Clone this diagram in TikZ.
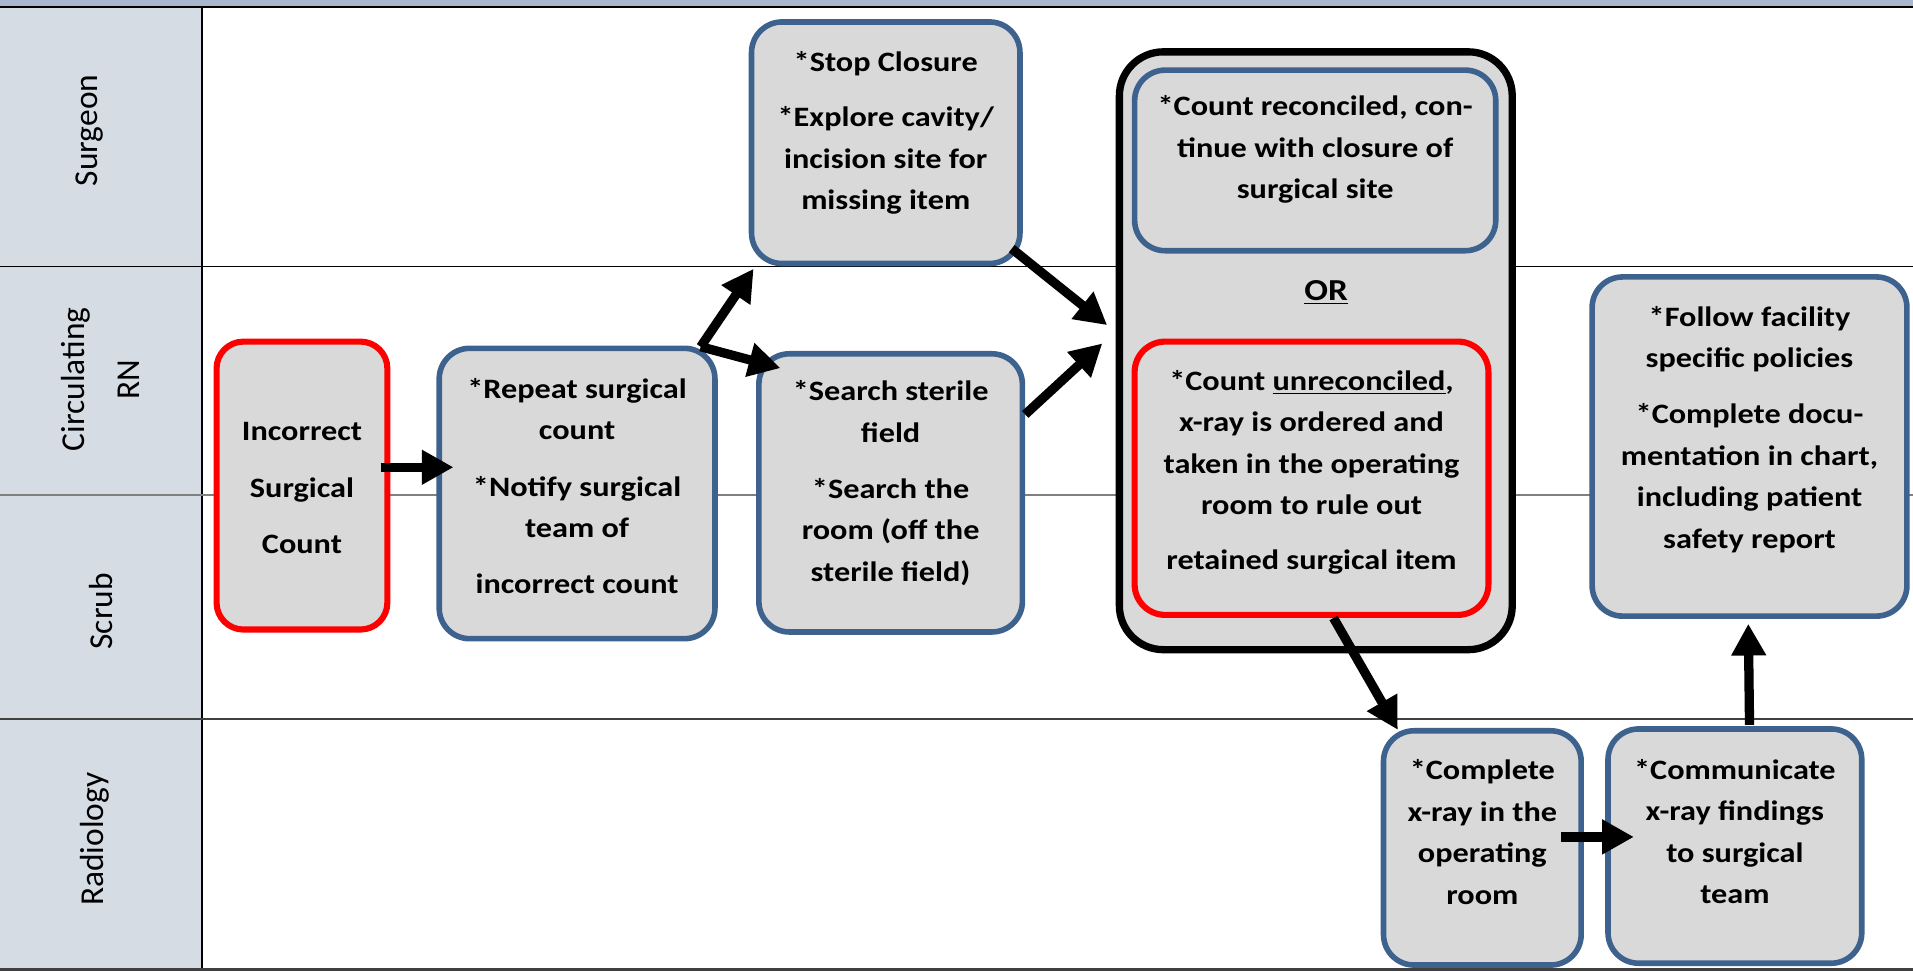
\documentclass[tikz,border=0pt]{standalone}
\usepackage{fontspec}
\setmainfont{Carlito}
\newfontfamily\boxfont{Carlito}[FakeStretch=1.15]
\usetikzlibrary{arrows.meta}
\definecolor{laneblue}{HTML}{D5DCE4}
\definecolor{bandblue}{HTML}{A7B8CE}
\definecolor{taskblue}{HTML}{3E628E}
\definecolor{taskgray}{HTML}{D9D9D9}

\begin{document}
\begin{tikzpicture}[x=0.5pt,y=-0.5pt,
  task/.style={draw=taskblue,fill=taskgray,line width=2.3pt,rounded corners=12.5pt,inner sep=0pt},
  alert/.style={task,draw=red,line width=2.5pt,rounded corners=11pt},
  group/.style={draw=black,fill=taskgray,line width=3pt,rounded corners=18pt,inner sep=0pt},
  txt/.style={align=center,inner sep=0pt,font=\boxfont\bfseries\fontsize{11.5}{17}\selectfont},
  lane/.style={rotate=90,align=center,font=\fontsize{13.7}{16.5}\selectfont},
  edge/.style={line width=3.8pt,-{Triangle[length=13pt,width=13.5pt]}}]
\useasboundingbox (0,0) rectangle (1568,796);

% swim lanes
\fill[bandblue] (0,0) rectangle (1568,6);
\fill[laneblue] (0,6) rectangle (165.5,796);
\draw[line width=0.8pt] (0,6) -- (1568,6);
\draw[line width=0.7pt] (165.5,6) -- (165.5,796);
\foreach \y/\c in {218.5/black,405.5/gray,589.5/black!75}
  \draw[\c,line width=0.7pt] (0,\y) -- (1568,\y);
\draw[black!75,line width=1pt] (0,794.5) -- (1568,794.5);

\node[lane] (surgeon) at (73,107) {Surgeon};
\node[lane] (circ) at (82,311) {Circulating\\[6pt]RN};
\node[lane] (scrub) at (83,501) {Scrub};
\node[lane] (radio) at (78,688) {Radiology};

% steps
\node[alert,minimum width=70pt,minimum height=118pt,
  label={[txt,yshift=-1pt]center:{Incorrect\\[6pt]Surgical\\[6pt]Count}}] (inc) at (247.5,398) {};
\node[task,minimum width=113pt,minimum height=119pt,
  label={[txt,yshift=3pt]center:{*Repeat surgical\\count\\[6pt]*Notify surgical\\team of\\[6pt]incorrect count}}] (rep) at (473,404.5) {};
\node[task,minimum width=110pt,minimum height=99pt,
  label={[txt,yshift=4pt]center:{*Stop Closure\\[5.5pt]*Explore cavity/\\incision site for\\missing item}}] (stop) at (726,117) {};
\node[task,minimum width=108pt,minimum height=114pt,
  label={[txt,yshift=4pt]center:{*Search sterile\\field\\[6pt]*Search the\\room (off the\\sterile field)}}] (search) at (730,404) {};

\node[group,minimum width=161pt,minimum height=245pt] (outer) at (1078.5,287.5) {};
\node[task,minimum width=148pt,minimum height=74pt,
  label={[txt,yshift=4.5pt]center:{*Count reconciled, con-\\tinue with closure of\\surgical site}}] (recon) at (1078,131.5) {};
\node[txt,font=\boxfont\bfseries\fontsize{12.5}{15}\selectfont] (ortxt) at (1087,240) {\underline{OR}};
\node[alert,rounded corners=12.5pt,minimum width=145pt,minimum height=112pt,
  label={[txt,yshift=2.5pt]center:{*Count \underline{unreconciled},\\x-ray is ordered and\\taken in the operating\\room to rule out\\[5.5pt]retained surgical item}}] (unrec) at (1075,392) {};

\node[task,minimum width=129pt,minimum height=139pt,
  label={[txt,yshift=7pt]center:{*Follow facility\\specific policies\\[6pt]*Complete docu-\\mentation in chart,\\including patient\\safety report}}] (follow) at (1434,366) {};
\node[task,minimum width=81pt,minimum height=96pt,
  label={[txt,yshift=6.5pt]center:{*Complete\\x-ray in the\\operating\\room}}] (xray) at (1215,695) {};
\node[task,minimum width=104pt,minimum height=96pt,
  label={[txt,yshift=6pt]center:{*Communicate\\x-ray findings\\to surgical\\team}}] (comm) at (1422,693.5) {};

\draw[edge] ([shift={(-8,-15)}]inc.east) -- ([shift={(14,-21.5)}]rep.west);
\draw[edge] ([shift={(-14,1)}]rep.north east) -- ([shift={(4,2)}]stop.south west);
\draw[edge] ([shift={(-14,1)}]rep.north east) -- ([shift={(20,14)}]search.north west);
\draw[edge] ([shift={(-9,-14.5)}]stop.south east) -- ([shift={(-7,-21)}]outer.west);
\draw[edge] ([shift={(0,52)}]search.north east) -- ([shift={(-11,-6)}]outer.west);
\draw[edge] ([shift={(18,0)}]unrec.south) -- ([shift={(14,1.5)}]xray.north west);
\draw[edge] ([shift={(-19,-9)}]xray.east) -- ([shift={(23.5,-7.5)}]comm.west);
\draw[edge] ([shift={(12,-1)}]comm.north) -- ([shift={(-1,4)}]follow.south);
\end{tikzpicture}
\end{document}
